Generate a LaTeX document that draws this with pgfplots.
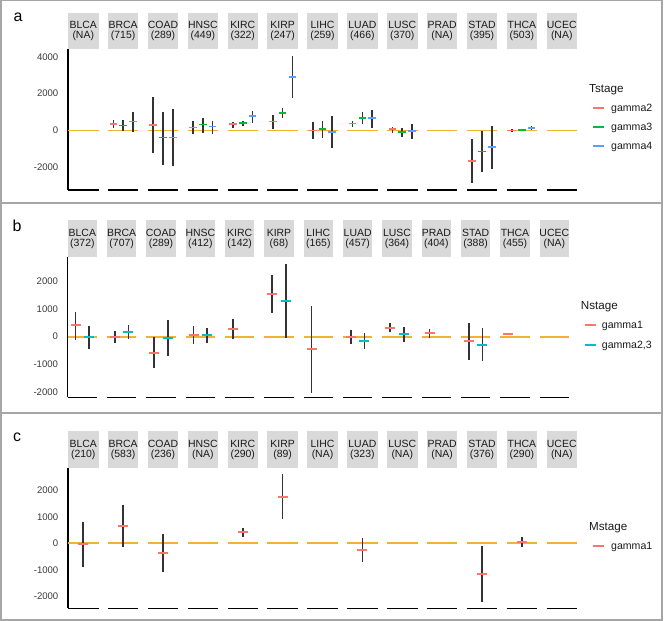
\documentclass[border=0pt]{standalone}
\usepackage{pgfplots}
\pgfplotsset{compat=1.18}
\usepackage{pgfplotstable}
\usepackage{fontspec}
\setmainfont{Liberation Sans}
\definecolor{cR}{HTML}{F8766D}
\definecolor{cG}{HTML}{00BA38}
\definecolor{cB}{HTML}{619CFF}
\definecolor{cC}{HTML}{00BFC4}
\definecolor{zl}{RGB}{240,180,50}
\definecolor{stripc}{HTML}{D9D9D9}
\definecolor{framec}{HTML}{A6A6A6}
\definecolor{barc}{HTML}{333333}
\definecolor{tickc}{HTML}{3A3A3A}
\definecolor{stext}{HTML}{1A1A1A}

% zero reference segments: facet index f, offset fraction o
\pgfplotstableread{
f o y
0 0 0
0 1 0
0 1 nan
1 0 0
1 1 0
1 1 nan
2 0 0
2 1 0
2 1 nan
3 0 0
3 1 0
3 1 nan
4 0 0
4 1 0
4 1 nan
5 0 0
5 1 0
5 1 nan
6 0 0
6 1 0
6 1 nan
7 0 0
7 1 0
7 1 nan
8 0 0
8 1 0
8 1 nan
9 0 0
9 1 0
9 1 nan
10 0 0
10 1 0
10 1 nan
11 0 0
11 1 0
11 1 nan
12 0 0
12 1 0
}\zerolines

% Panel a: Tstage
\pgfplotstableread{
f y hi lo
1 360 576 126
2 306 1836 -1224
3 162 540 -198
4 342 486 162
5 486 846 90
6 0 450 -468
7 378 540 180
8 72 216 -108
10 -1656 -468 -2844
11 0 70 -60
}\taR
\pgfplotstableread{
f y hi lo
1 270 576 0
2 -378 1026 -1854
3 324 702 -108
4 396 504 252
5 954 1206 666
6 90 540 -396
7 666 1008 360
8 -90 126 -324
10 -1134 -18 -2250
11 36 110 -30
}\taG
\pgfplotstableread{
f y hi lo
1 486 1026 -72
2 -378 1152 -1944
3 216 540 -180
4 774 1062 396
5 2898 4050 1746
6 -72 792 -972
7 666 1116 144
8 -18 342 -468
10 -900 252 -2088
11 144 252 36
}\taB

% Panel b: Nstage
\pgfplotstableread{
f y hi lo
0 409 889 -120
1 -12 204 -216
2 -577 0 -1142
3 48 385 -276
4 276 625 -96
5 1526 2212 841
6 -457 1106 -2019
7 -12 240 -264
8 325 505 168
9 144 264 -36
10 -168 505 -841
11 84 120 48
}\tbR
\pgfplotstableread{
f y hi lo
0 -24 385 -433
1 168 409 -96
2 -36 601 -697
3 60 300 -216
5 1274 2608 -36
7 -144 120 -433
8 84 349 -192
10 -288 300 -889
}\tbC

% Panel c: Mstage
\pgfplotstableread{
f y hi lo
0 -25 792 -880
1 654 1447 -151
2 -377 340 -1082
4 415 566 252
5 1761 2617 906
7 -252 214 -717
10 -1157 -101 -2227
11 50 226 -126
}\tcR

\def\PA{39.875}\def\WA{30.5}
\def\PB{39.33}\def\WB{29.3}

\pgfplotsset{
  facet/.style={
    scale only axis, anchor=south west,
    axis x line=none, axis y line*=left,
    y axis line style={line width=1.2bp, black, -},
    major tick length=0pt, ytick style={draw=none},
    xtick=\empty, xmin=0,
    yticklabel style={font=\fontsize{9.6}{10}\selectfont, text=tickc, inner sep=0pt, xshift=-9.5bp},
  },
  ebar/.style={draw=none, mark=none, forget plot,
    error bars/.cd, y dir=both, y explicit, error mark=none,
    error bar style={line width=1.6bp, draw=barc, solid}},
  cbar/.style n args={2}{draw=none, mark=none, forget plot,
    error bars/.cd, x dir=both, x fixed=#2, error mark=none,
    error bar style={line width=1.8bp, draw=#1, solid}},
}

\begin{document}
\begin{tikzpicture}
\begin{scope}[x=1bp,y=1bp]
\useasboundingbox (0,0) rectangle (665,621);
\fill[white] (0,0) rectangle (665,621);
\draw[framec, line width=1.3bp] (1,1) rectangle (662,620.3);
\draw[framec, line width=1.3bp] (1,418) -- (662,418);
\draw[framec, line width=1.3bp] (1,208) -- (662,208);
\end{scope}

% ---------------- Panel a ----------------
\begin{axis}[facet, at={(68bp,431bp)}, width=509bp, height=141bp,
  xmax=509, ymin=-3223, ymax=4424,
  ytick={-2000,0,2000,4000}, yticklabels={-2000,0,2000,4000}]
\addplot[zl, line width=1.8bp, unbounded coords=jump, forget plot] table[x expr=\thisrow{f}*\PA+\thisrow{o}*\WA, y=y] {\zerolines};
\addplot[ebar] table[x expr=\thisrow{f}*\PA+0.18*\WA, y=y, y error plus expr=\thisrow{hi}-\thisrow{y}, y error minus expr=\thisrow{y}-\thisrow{lo}] {\taR};
\addplot[ebar] table[x expr=\thisrow{f}*\PA+0.5*\WA, y=y, y error plus expr=\thisrow{hi}-\thisrow{y}, y error minus expr=\thisrow{y}-\thisrow{lo}] {\taG};
\addplot[ebar] table[x expr=\thisrow{f}*\PA+0.82*\WA, y=y, y error plus expr=\thisrow{hi}-\thisrow{y}, y error minus expr=\thisrow{y}-\thisrow{lo}] {\taB};
\addplot[cbar={cR}{3.8}] table[x expr=\thisrow{f}*\PA+0.18*\WA, y=y] {\taR};
\addplot[cbar={cG}{3.8}] table[x expr=\thisrow{f}*\PA+0.5*\WA, y=y] {\taG};
\addplot[cbar={cB}{3.8}] table[x expr=\thisrow{f}*\PA+0.82*\WA, y=y] {\taB};
\end{axis}

% ---------------- Panel b ----------------
\begin{axis}[facet, at={(67.7bp,223.7bp)}, width=501.3bp, height=140.6bp,
  xmax=501.3, ymin=-2184, ymax=2883,
  ytick={-2000,-1000,0,1000,2000}, yticklabels={-2000,-1000,0,1000,2000}]
\addplot[zl, line width=1.8bp, unbounded coords=jump, forget plot] table[x expr=\thisrow{f}*\PB+\thisrow{o}*\WB, y=y] {\zerolines};
\addplot[ebar] table[x expr=\thisrow{f}*\PB+0.27*\WB, y=y, y error plus expr=\thisrow{hi}-\thisrow{y}, y error minus expr=\thisrow{y}-\thisrow{lo}] {\tbR};
\addplot[ebar] table[x expr=\thisrow{f}*\PB+0.73*\WB, y=y, y error plus expr=\thisrow{hi}-\thisrow{y}, y error minus expr=\thisrow{y}-\thisrow{lo}] {\tbC};
\addplot[cbar={cR}{5}] table[x expr=\thisrow{f}*\PB+0.27*\WB, y=y] {\tbR};
\addplot[cbar={cC}{5}] table[x expr=\thisrow{f}*\PB+0.73*\WB, y=y] {\tbC};
\end{axis}

% ---------------- Panel c ----------------
\begin{axis}[facet, at={(68bp,12.7bp)}, width=509bp, height=140.6bp,
  xmax=509, ymin=-2453, ymax=2853,
  ytick={-2000,-1000,0,1000,2000}, yticklabels={-2000,-1000,0,1000,2000}]
\addplot[zl, line width=1.8bp, unbounded coords=jump, forget plot] table[x expr=\thisrow{f}*\PA+\thisrow{o}*\WA, y=y] {\zerolines};
\addplot[ebar] table[x expr=\thisrow{f}*\PA+0.5*\WA, y=y, y error plus expr=\thisrow{hi}-\thisrow{y}, y error minus expr=\thisrow{y}-\thisrow{lo}] {\tcR};
\addplot[cbar={cR}{5}] table[x expr=\thisrow{f}*\PA+0.5*\WA, y=y] {\tcR};
\end{axis}

\begin{scope}[x=1bp,y=1bp]
% strips and facet baselines
\tikzset{stripnode/.style={align=center, font=\fontsize{10.5}{10}\selectfont, text=stext, inner sep=0pt}}
\foreach \nm/\ct [count=\i from 0] in {BLCA/NA,BRCA/715,COAD/289,HNSC/449,KIRC/322,KIRP/247,LIHC/259,LUAD/466,LUSC/370,PRAD/NA,STAD/395,THCA/503,UCEC/NA}{
  \fill[stripc] ({68+\i*\PA},571.7) rectangle ++(\WA,36.6);
  \node[stripnode] at ({68+\i*\PA+\WA/2},589.6) {\nm\\(\ct)};
  \draw[line width=1.2bp] ({68+\i*\PA},431) -- ++(\WA,0);
}
\foreach \nm/\ct [count=\i from 0] in {BLCA/372,BRCA/707,COAD/289,HNSC/412,KIRC/142,KIRP/68,LIHC/165,LUAD/457,LUSC/364,PRAD/404,STAD/388,THCA/455,UCEC/NA}{
  \fill[stripc] ({67.7+\i*\PB},364.3) rectangle ++(\WB,36.6);
  \node[stripnode] at ({67.7+\i*\PB+\WB/2},382.2) {\nm\\(\ct)};
  \draw[line width=1.2bp] ({67.7+\i*\PB},223.7) -- ++(\WB,0);
}
\foreach \nm/\ct [count=\i from 0] in {BLCA/210,BRCA/583,COAD/236,HNSC/NA,KIRC/290,KIRP/89,LIHC/NA,LUAD/323,LUSC/NA,PRAD/NA,STAD/376,THCA/290,UCEC/NA}{
  \fill[stripc] ({68+\i*\PA},153.3) rectangle ++(\WA,37);
  \node[stripnode] at ({68+\i*\PA+\WA/2},171.4) {\nm\\(\ct)};
  \draw[line width=1.2bp] ({68+\i*\PA},12.7) -- ++(\WA,0);
}
% panel letters
\node[font=\fontsize{16}{16}\selectfont, inner sep=0pt] at (18,604) {a};
\node[font=\fontsize{16}{16}\selectfont, inner sep=0pt] at (17,395) {b};
\node[font=\fontsize{16}{16}\selectfont, inner sep=0pt] at (17,183.5) {c};
% legends
\tikzset{legt/.style={font=\fontsize{11.7}{12}\selectfont, inner sep=0pt, anchor=base west, text=stext},
         lege/.style={font=\fontsize{10.6}{11}\selectfont, inner sep=0pt, anchor=base west, text=stext}}
\node[legt] at (589,528.4) {Tstage};
\draw[cR, line width=1.6bp] (593.3,513) -- (604,513); \node[lege] at (611,509.2) {gamma2};
\draw[cG, line width=1.6bp] (593.3,494) -- (604,494); \node[lege] at (611,490.2) {gamma3};
\draw[cB, line width=1.6bp] (593.3,475) -- (604,475); \node[lege] at (611,471.2) {gamma4};
\node[legt] at (580.7,311.1) {Nstage};
\draw[cR, line width=1.6bp] (585,296) -- (595.5,296); \node[lege] at (601.7,292.2) {gamma1};
\draw[cC, line width=1.6bp] (585,276) -- (595.5,276); \node[lege] at (601.7,272.2) {gamma2,3};
\node[legt] at (589,90.8) {Mstage};
\draw[cR, line width=1.6bp] (593.3,75) -- (604,75); \node[lege] at (611,71.2) {gamma1};
\end{scope}
\end{tikzpicture}
\end{document}
